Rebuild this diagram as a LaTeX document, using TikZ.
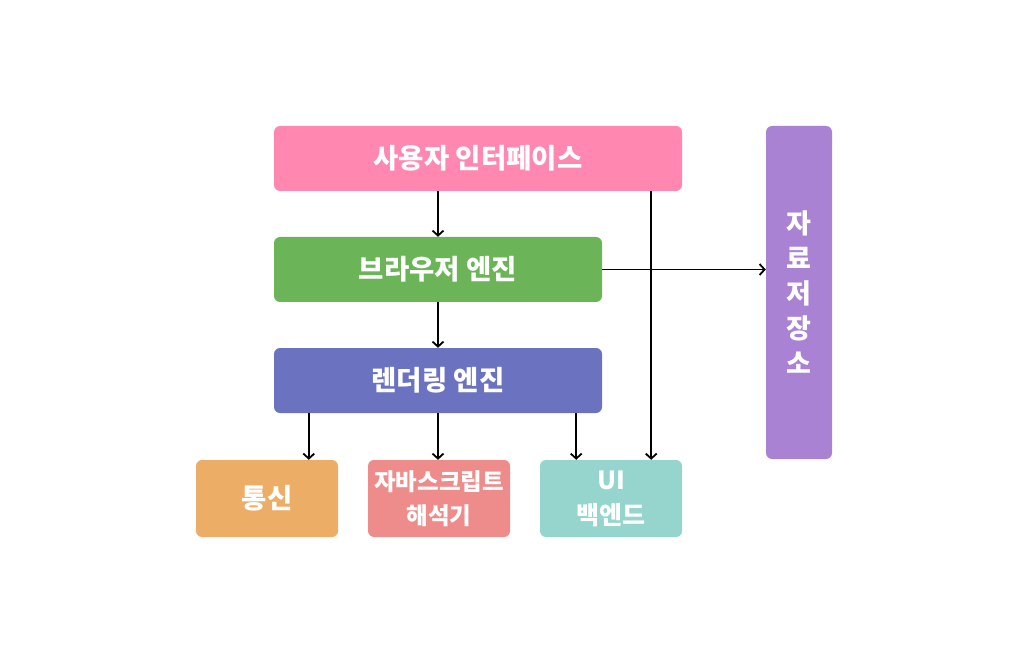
\documentclass[tikz,border=0pt]{standalone}
\usepackage{fontspec}
\setmainfont{Noto Sans CJK KR}
\usetikzlibrary{arrows.meta,calc}
\definecolor{cpink}{RGB}{255,135,176}
\definecolor{cgreen}{RGB}{107,181,88}
\definecolor{cblue}{RGB}{107,115,193}
\definecolor{corange}{RGB}{236,174,103}
\definecolor{csalmon}{RGB}{238,140,140}
\definecolor{cteal}{RGB}{150,213,206}
\definecolor{cpurple}{RGB}{170,130,212}
\tikzset{
  boxnode/.style={rectangle, rounded corners=6pt, inner sep=0pt, text=white, align=center,
    font=\bfseries\fontsize{27.5}{34}\selectfont},
  arr/.style={line width=1.8pt, -{Straight Barb[length=5pt,width=11pt,line width=1.8pt]}},
}
\begin{document}
\begin{tikzpicture}[x=1pt,y=-1pt]
\useasboundingbox (0,0) rectangle (1026,663);
\fill[white] (0,0) rectangle (1026,663);
\node[boxnode, fill=cpink, minimum width=408pt, minimum height=65pt] (ui) at (478,158.5) {사용자 인터페이스};
\node[boxnode, fill=cgreen, minimum width=328pt, minimum height=65pt] (be) at (438,269.5) {브라우저 엔진};
\node[boxnode, fill=cblue, minimum width=328pt, minimum height=65pt] (re) at (438,380.5) {렌더링 엔진};
\node[boxnode, fill=corange, minimum width=142pt, minimum height=77pt] (net) at (267,498.5) {통신};
\node[boxnode, fill=csalmon, minimum width=142pt, minimum height=77pt, font=\bfseries\fontsize{23.5}{34}\selectfont] (js) at (439,498.5) {자바스크립트\\해석기};
\node[boxnode, fill=cteal, minimum width=142pt, minimum height=77pt, font=\bfseries\fontsize{25}{35}\selectfont] (uib) at (611,498.5) {UI\\백엔드};
\node[boxnode, fill=cpurple, minimum width=66pt, minimum height=333pt, font=\bfseries\fontsize{27}{35}\selectfont] (st) at (799,292.5) {자\\료\\저\\장\\소};
\draw[arr] (ui.south -| be.north) -- (be.north);
\draw[arr] (be.south) -- (re.north);
\draw[arr] ([xshift=35pt]re.south west) -- ([xshift=35pt]re.south west |- net.north);
\draw[arr] (re.south) -- (re.south |- js.north);
\draw[arr] ([xshift=-26pt]re.south east) -- ([xshift=-26pt]re.south east |- uib.north);
\draw[arr] ([xshift=-31pt]ui.south east) -- ([xshift=-31pt]ui.south east |- uib.north);
\draw[arr] (be.east) -- (be.east -| st.west);
\end{tikzpicture}
\end{document}
